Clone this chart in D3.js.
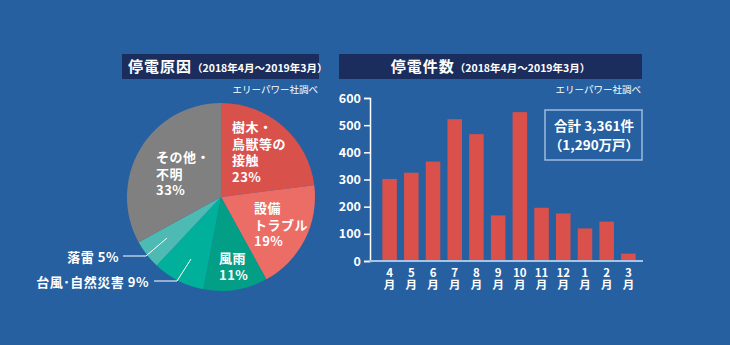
<!DOCTYPE html>
<html>
<head>
<meta charset="utf-8">
<script src="https://cdn.jsdelivr.net/npm/d3@7"></script>
<style>
  html, body { margin: 0; padding: 0; background: #2660a0; }
  svg { display: block; }
  text { font-family: "Noto Sans CJK JP", "Noto Sans", sans-serif; fill: #fff; }
</style>
</head>
<body>
<svg id="chart" width="730" height="345"></svg>
<script>
// 停電原因 (pie)
const causeLabels = [["樹木・", "鳥獣等の", "接触"], ["設備", "トラブル"], ["風雨"], ["台風･自然災害"], ["落雷"], ["その他・", "不明"]];
const causeShares = [23, 19, 11, 9, 5, 33];
const causeColors = ["#d9514b", "#ec6c66", "#039e86", "#00b09b", "#4dbab3", "#808080"];

// 停電件数 (bars)
const months = ["4", "5", "6", "7", "8", "9", "10", "11", "12", "1", "2", "3"];
const outageCounts = [302, 325, 366, 522, 467, 168, 548, 196, 175, 120, 145, 27];
const yTicks = [0, 100, 200, 300, 400, 500, 600];

const svg = d3.select("#chart");
const navy = "#1b2d5c";

// ---------- header boxes ----------
function header(x, w, main, sub, center) {
  svg.append("rect").attr("x", x).attr("y", 54).attr("width", w).attr("height", 25).attr("fill", navy);
  const t = svg.append("text").attr("y", 72).attr("font-weight", "bold");
  if (center) t.attr("x", x + w / 2).attr("text-anchor", "middle");
  else t.attr("x", x + 6);
  t.append("tspan").attr("font-size", 15).attr("letter-spacing", 1).text(main);
  t.append("tspan").attr("font-size", 10.5).text(sub);
  svg.append("text").attr("x", x + w - 1).attr("y", 93).attr("text-anchor", "end")
    .attr("font-size", 9.5).text("エリーパワー社調べ");
}
header(122, 197, "停電原因", "（2018年4月～2019年3月）", false);
header(339, 303, "停電件数", "（2018年4月～2019年3月）", true);

// ---------- pie ----------
const cx = 221, cy = 197, r = 94;
const pie = d3.pie().sort(null).value(d => d)(causeShares);
const arc = d3.arc().innerRadius(0).outerRadius(r);
const g = svg.append("g").attr("transform", `translate(${cx},${cy})`);
g.selectAll("path").data(pie).join("path")
  .attr("d", arc).attr("fill", (d, i) => causeColors[i]);

// labels inside slices (left-aligned blocks)
const inside = [
  { i: 0, x: 232, y: 132 },
  { i: 1, x: 254, y: 213 },
  { i: 2, x: 219, y: 263 },
  { i: 5, x: 156, y: 162 }
];
inside.forEach(o => {
  const lines = causeLabels[o.i].concat([causeShares[o.i] + "%"]);
  const t = svg.append("text").attr("font-size", 13).attr("font-weight", "bold");
  lines.forEach((s, k) => {
    t.append("tspan").attr("x", o.x).attr("y", o.y + k * 16.5).attr("letter-spacing", 0.5).text(s);
  });
});

// outside labels with leader lines
const outside = [
  { i: 4, tx: 119, ty: 262, pts: [[123, 256], [146, 256], [167, 238]] },
  { i: 3, tx: 149, ty: 287, pts: [[154, 281], [177, 281], [191, 259]] }
];
outside.forEach(o => {
  svg.append("path").attr("d", d3.line()(o.pts)).attr("fill", "none")
    .attr("stroke", "#fff").attr("stroke-width", 1);
  svg.append("text").attr("x", o.tx).attr("y", o.ty).attr("text-anchor", "end")
    .attr("font-size", 13).attr("font-weight", "bold").attr("letter-spacing", 0.5)
    .text(causeLabels[o.i][0] + " " + causeShares[o.i] + "%");
});

// ---------- bar chart ----------
const x = d3.scaleBand().domain(months).range([378, 640]).paddingInner(0.33).paddingOuter(0.2);
const y = d3.scaleLinear().domain([0, 600]).range([261, 98]);

svg.append("g").selectAll("rect").data(outageCounts).join("rect")
  .attr("x", (d, i) => x(months[i]))
  .attr("width", x.bandwidth())
  .attr("y", d => y(d))
  .attr("height", d => y(0) - y(d))
  .attr("fill", "#da504a");

// y axis
const yAxis = svg.append("g").attr("transform", "translate(370,0)")
  .call(d3.axisLeft(y).tickValues(yTicks).tickSize(6).tickPadding(3));
yAxis.select(".domain").attr("stroke", "#fff").attr("stroke-width", 1.5);
yAxis.selectAll(".tick line").attr("stroke", "#fff").attr("stroke-width", 1.5);
yAxis.selectAll(".tick text").attr("fill", "#fff").attr("font-size", 12.5)
  .attr("font-weight", "bold").attr("font-family", "'Noto Sans CJK JP', sans-serif");

// baseline
svg.append("line").attr("x1", 369).attr("x2", 643).attr("y1", y(0)).attr("y2", y(0))
  .attr("stroke", "#a9c4e2").attr("stroke-width", 2);

// month labels: number over 月
const xl = svg.append("g").attr("font-size", 11.5).attr("font-weight", "bold");
months.forEach(m => {
  const cxm = x(m) + x.bandwidth() / 2;
  xl.append("text").attr("x", cxm).attr("y", 277).attr("text-anchor", "middle").text(m);
  xl.append("text").attr("x", cxm).attr("y", 289).attr("text-anchor", "middle").text("月");
});

// total box
svg.append("rect").attr("x", 545).attr("y", 110).attr("width", 97).attr("height", 50)
  .attr("fill", "none").attr("stroke", "#9dbbdc").attr("stroke-width", 1.5);
svg.append("text").attr("x", 594).attr("y", 131).attr("text-anchor", "middle")
  .attr("font-size", 13.5).attr("font-weight", "bold").text("合計 3,361件");
svg.append("text").attr("x", 594).attr("y", 150).attr("text-anchor", "middle")
  .attr("font-size", 13.5).attr("font-weight", "bold").text("（1,290万戸）");
</script>
</body>
</html>
